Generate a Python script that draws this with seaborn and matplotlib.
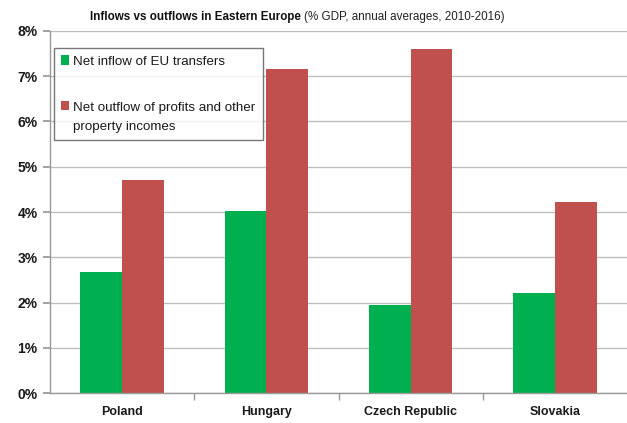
import matplotlib
matplotlib.use("Agg")
import matplotlib.pyplot as plt
import seaborn as sns
import pandas as pd
from matplotlib.ticker import FixedLocator, PercentFormatter

countries = ["Poland", "Hungary", "Czech Republic", "Slovakia"]
eu_inflow = [2.68, 4.02, 1.94, 2.20]
profit_outflow = [4.70, 7.15, 7.60, 4.23]
series_names = ["Net inflow of EU transfers",
                "Net outflow of profits and other\nproperty incomes"]
y_ticks = [0, 1, 2, 3, 4, 5, 6, 7, 8]

df = pd.DataFrame({
    "country": countries * 2,
    "value": eu_inflow + profit_outflow,
    "series": [series_names[0]] * 4 + [series_names[1]] * 4,
})

sns.set_theme(style="white")
plt.rcParams["font.family"] = ["Liberation Sans", "DejaVu Sans"]

fig = plt.figure(figsize=(6.27, 4.23), dpi=100)
ax = fig.add_axes([50/627, 1-393/423, 577/627, (393-31)/423])

palette = {series_names[0]: "#00B050", series_names[1]: "#C0504D"}
sns.barplot(data=df, x="country", y="value", hue="series", palette=palette,
            width=0.58, gap=0, saturation=1, ax=ax, legend=True)

ax.set_xlim(-0.5, 3.5)
ax.set_ylim(0, 8)
ax.set_yticks(y_ticks)
ax.yaxis.set_major_formatter(PercentFormatter(decimals=0))
ax.yaxis.grid(True, color="#bdbdbd", linewidth=1.0)
ax.set_axisbelow(True)
ax.set_xlabel("")
ax.set_ylabel("")
for lab in ax.get_yticklabels():
    lab.set_fontweight("bold")
    lab.set_fontsize(10)
    lab.set_color("#1a1a1a")
for lab in ax.get_xticklabels():
    lab.set_fontweight("bold")
    lab.set_fontsize(9)
    lab.set_color("#1a1a1a")
ax.tick_params(axis="y", left=True, length=5, color="#999999", pad=4)
ax.tick_params(axis="x", which="major", bottom=True, length=0, pad=9)
ax.xaxis.set_minor_locator(FixedLocator([0.5, 1.5, 2.5]))
ax.tick_params(axis="x", which="minor", bottom=True, length=5, color="#999999")

for side in ["top", "right"]:
    ax.spines[side].set_visible(False)
for side in ["left", "bottom"]:
    ax.spines[side].set_color("#999999")
    ax.spines[side].set_linewidth(1.0)
ax.axhline(8, color="#777777", linewidth=1.2, zorder=0.5)

for p in ax.patches:
    p.set_edgecolor("none")

leg = ax.legend(loc="upper left", bbox_to_anchor=(0.007, 0.953), frameon=True,
                fancybox=False, fontsize=9.6, labelspacing=2.6,
                handlelength=0.55, handleheight=0.7, handletextpad=0.35,
                borderpad=0.55, borderaxespad=0)
leg.get_frame().set_edgecolor("#555555")
leg.get_frame().set_linewidth(1.0)
for t in leg.get_texts():
    t.set_linespacing(1.75)
    t.set_color("#1a1a1a")
# align the second handle with the first line of its two-line label
h2 = leg.legend_handles[1]
h2.set_y(h2.get_y() + 8.5)

t1 = fig.text(90/627, 1-17/423, "Inflows vs outflows in Eastern Europe",
              fontsize=8.4, fontweight="bold",
              ha="left", va="center", color="#111111")
fig.canvas.draw()
r = fig.canvas.get_renderer()
bb = t1.get_window_extent(r)
x2 = (bb.x1 + 3) / fig.bbox.width
fig.text(x2, 1-17/423, "(% GDP, annual averages, 2010-2016)",
         fontsize=8.4, ha="left", va="center", color="#222222")

fig.savefig("out.png", dpi=100)
